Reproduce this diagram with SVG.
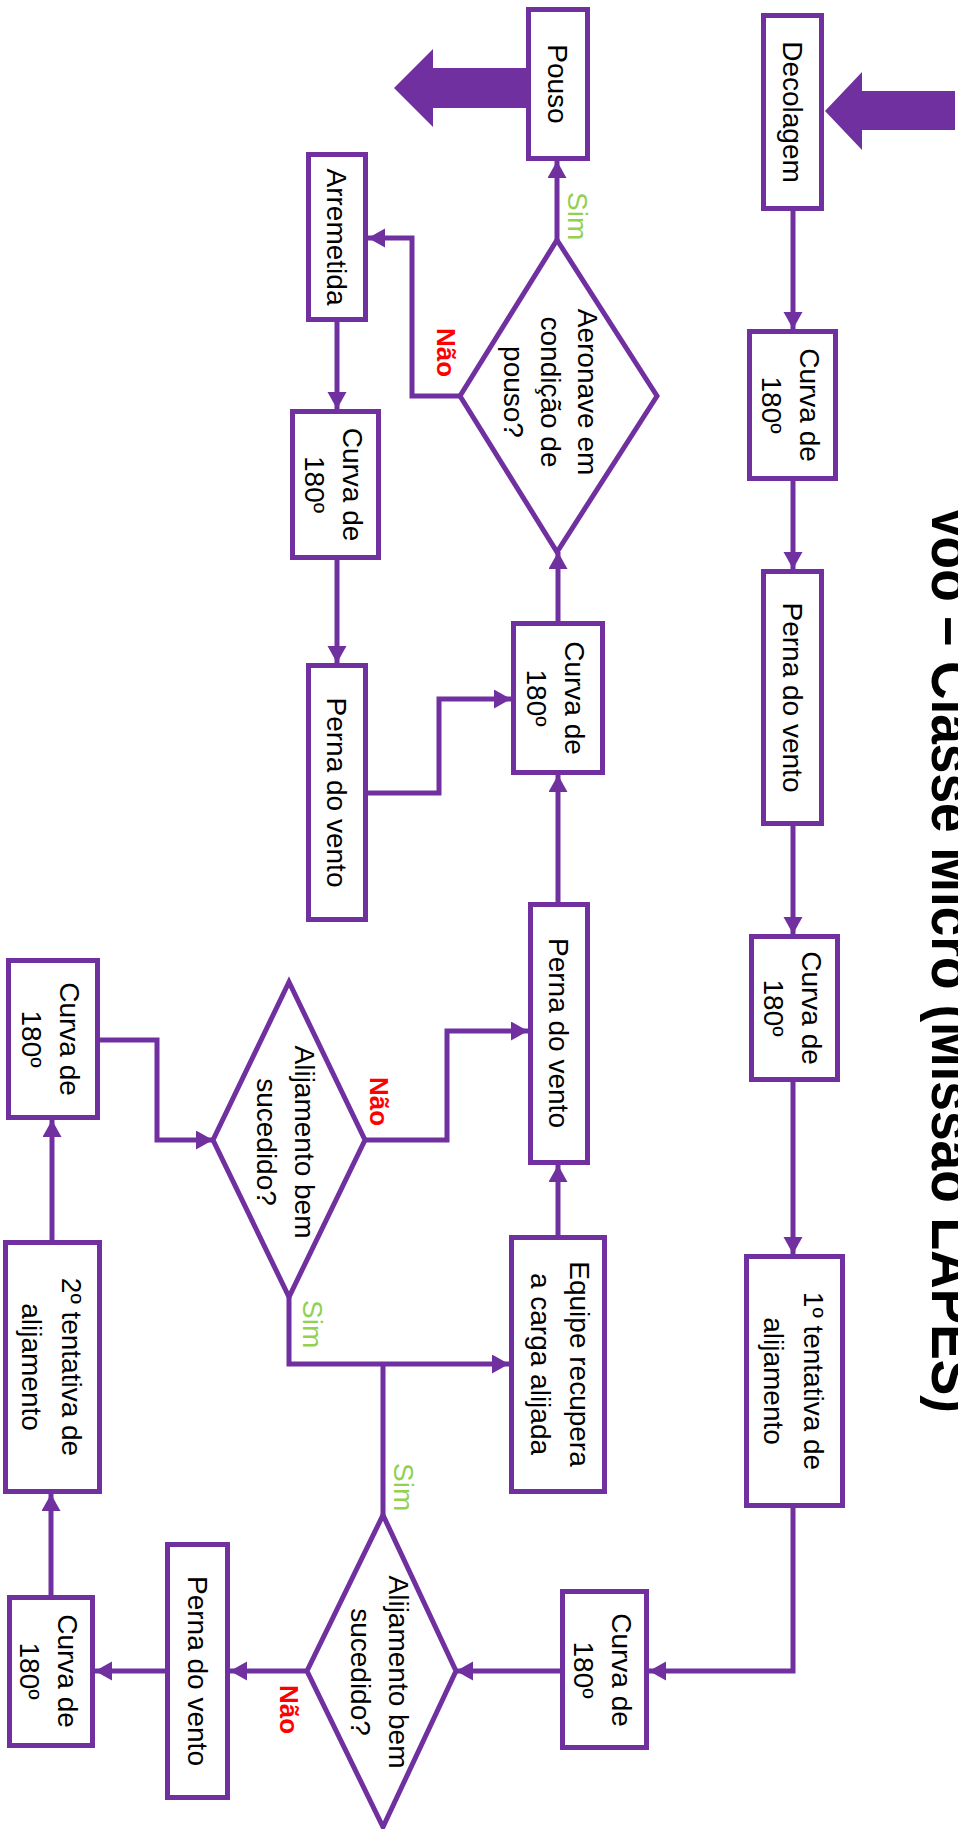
<svg xmlns="http://www.w3.org/2000/svg" width="958" height="1829" viewBox="0 0 958 1829">
<style>
.box{fill:#fff;stroke:#7030A0;stroke-width:5}
.dia{fill:#fff;stroke:#7030A0;stroke-width:5;stroke-linejoin:miter}
.ln{fill:none;stroke:#7030A0;stroke-width:5}
.t{font-family:"Liberation Sans",Arial,sans-serif;font-size:28px;fill:#000;text-anchor:middle}
.sim{font-family:"Liberation Sans",Arial,sans-serif;font-size:28px;fill:#92D050}
.nao{font-family:"Liberation Sans",Arial,sans-serif;font-size:26px;font-weight:bold;fill:#FF0000}
.title{font-family:"Liberation Sans",Arial,sans-serif;font-size:60px;font-weight:bold;fill:#000}
.big{fill:#7030A0}
</style>
<defs>
<marker id="ah" markerUnits="userSpaceOnUse" markerWidth="18" markerHeight="20" refX="17" refY="9.5" orient="auto">
<path d="M0,0 L17,9.5 L0,19 Z" fill="#7030A0"/>
</marker>
</defs>

<text class="title" transform="translate(932,505) rotate(90)" textLength="908" lengthAdjust="spacingAndGlyphs">Voo – Classe Micro (Missão LAPES)</text>

<g id="connectors">
<path class="ln" marker-end="url(#ah)" d="M793,211 V329"/>
<path class="ln" marker-end="url(#ah)" d="M793,481 V569"/>
<path class="ln" marker-end="url(#ah)" d="M793,826 V934"/>
<path class="ln" marker-end="url(#ah)" d="M793,1082 V1254"/>
<path class="ln" marker-end="url(#ah)" d="M793,1508 V1671 H649"/>
<path class="ln" marker-end="url(#ah)" d="M560,1671 H456"/>
<path class="ln" marker-end="url(#ah)" d="M307,1671 H230"/>
<path class="ln" marker-end="url(#ah)" d="M165,1671 H95"/>
<path class="ln" marker-end="url(#ah)" d="M51,1595 V1494"/>
<path class="ln" marker-end="url(#ah)" d="M52,1240 V1120"/>
<path class="ln" marker-end="url(#ah)" d="M100,1040 H157 V1140 H213"/>
<path class="ln" marker-end="url(#ah)" d="M365,1140 H447 V1031 H528"/>
<path class="ln" marker-end="url(#ah)" d="M289,1297 V1364 H509"/>
<path class="ln" d="M383,1515 V1364"/>
<path class="ln" marker-end="url(#ah)" d="M558,1235 V1165"/>
<path class="ln" marker-end="url(#ah)" d="M558,902 V775"/>
<path class="ln" marker-end="url(#ah)" d="M558,621 V552"/>
<path class="ln" marker-end="url(#ah)" d="M557,240 V161"/>
<path class="ln" marker-end="url(#ah)" d="M460,396 H412 V238 H368"/>
<path class="ln" marker-end="url(#ah)" d="M337,322 V409"/>
<path class="ln" marker-end="url(#ah)" d="M337,560 V663"/>
<path class="ln" marker-end="url(#ah)" d="M368,793 H439 V699 H511"/>
<polygon class="big" points="955,91 862,91 862,72 825,111 862,150 862,130 955,130"/>
<polygon class="big" points="527,68 433,68 433,49 394,88 433,127 433,108 527,108"/>
<text class="sim" transform="translate(568,192) rotate(90)">Sim</text>
<text class="nao" transform="translate(437,328) rotate(90)">Não</text>
<text class="nao" transform="translate(370,1077) rotate(90)">Não</text>
<text class="sim" transform="translate(303,1300) rotate(90)">Sim</text>
<text class="sim" transform="translate(394,1463) rotate(90)">Sim</text>
<text class="nao" transform="translate(280,1685) rotate(90)">Não</text>
</g>

<g id="decolagem"><rect class="box" x="763.5" y="15.5" width="58" height="193"/>
<text class="t" transform="translate(792.5,112) rotate(90)" y="10">Decolagem</text></g>

<g id="curva1"><rect class="box" x="749.5" y="331.5" width="86" height="147"/>
<text class="t" transform="translate(792.5,405) rotate(90)"><tspan x="0" y="-7">Curva de</tspan><tspan x="0" y="31">180º</tspan></text></g>

<g id="perna1"><rect class="box" x="763.5" y="571.5" width="58" height="252"/>
<text class="t" transform="translate(792.5,697.5) rotate(90)" y="10">Perna do vento</text></g>

<g id="curva2"><rect class="box" x="751.5" y="936.5" width="86" height="143"/>
<text class="t" transform="translate(794.5,1008) rotate(90)"><tspan x="0" y="-7">Curva de</tspan><tspan x="0" y="31">180º</tspan></text></g>

<g id="tentativa1"><rect class="box" x="746.5" y="1256.5" width="96" height="249"/>
<text class="t" transform="translate(794.5,1381) rotate(90)"><tspan x="0" y="-9">1º tentativa de</tspan><tspan x="0" y="31">alijamento</tspan></text></g>

<g id="pouso"><rect class="box" x="528.5" y="9.5" width="59" height="149"/>
<text class="t" transform="translate(558,84) rotate(90)" y="10">Pouso</text></g>

<g id="decisao-pouso"><polygon class="dia" points="557,240 657,396 557,552 460,396"/>
<text class="t" transform="translate(557,392) rotate(90)"><tspan x="0" y="-21">Aeronave em</tspan><tspan x="0" y="16">condição de</tspan><tspan x="0" y="53">pouso?</tspan></text></g>

<g id="curva3"><rect class="box" x="513.5" y="623.5" width="89" height="149"/>
<text class="t" transform="translate(558,698) rotate(90)"><tspan x="0" y="-7">Curva de</tspan><tspan x="0" y="31">180º</tspan></text></g>

<g id="perna2"><rect class="box" x="530.5" y="904.5" width="57" height="258"/>
<text class="t" transform="translate(559,1033) rotate(90)" y="10">Perna do vento</text></g>

<g id="equipe"><rect class="box" x="511.5" y="1237.5" width="93" height="254"/>
<text class="t" transform="translate(558,1364) rotate(90)"><tspan x="0" y="-12">Equipe recupera</tspan><tspan x="0" y="27">a carga alijada</tspan></text></g>

<g id="arremetida"><rect class="box" x="308.5" y="154.5" width="57" height="165"/>
<text class="t" transform="translate(337,237) rotate(90)" y="10">Arremetida</text></g>

<g id="curva4"><rect class="box" x="292.5" y="411.5" width="86" height="146"/>
<text class="t" transform="translate(335.5,484.5) rotate(90)"><tspan x="0" y="-7">Curva de</tspan><tspan x="0" y="31">180º</tspan></text></g>

<g id="perna3"><rect class="box" x="308.5" y="665.5" width="57" height="254"/>
<text class="t" transform="translate(337,792.5) rotate(90)" y="10">Perna do vento</text></g>

<g id="decisao1"><polygon class="dia" points="289,982 365,1140 289,1297 213,1140"/>
<text class="t" transform="translate(289,1142) rotate(90)"><tspan x="0" y="-6">Alijamento bem</tspan><tspan x="0" y="32">sucedido?</tspan></text></g>

<g id="curva5"><rect class="box" x="8.5" y="960.5" width="89" height="157"/>
<text class="t" transform="translate(53,1039) rotate(90)"><tspan x="0" y="-7">Curva de</tspan><tspan x="0" y="31">180º</tspan></text></g>

<g id="tentativa2"><rect class="box" x="5.5" y="1242.5" width="94" height="249"/>
<text class="t" transform="translate(52.5,1367) rotate(90)"><tspan x="0" y="-9">2º tentativa de</tspan><tspan x="0" y="31">alijamento</tspan></text></g>

<g id="curva6"><rect class="box" x="9.5" y="1597.5" width="83" height="148"/>
<text class="t" transform="translate(51,1671) rotate(90)"><tspan x="0" y="-7">Curva de</tspan><tspan x="0" y="31">180º</tspan></text></g>

<g id="curva7"><rect class="box" x="562.5" y="1591.5" width="84" height="156"/>
<text class="t" transform="translate(604.5,1670) rotate(90)"><tspan x="0" y="-7">Curva de</tspan><tspan x="0" y="31">180º</tspan></text></g>

<g id="decisao2"><polygon class="dia" points="383,1515 456,1671 383,1827 307,1671"/>
<text class="t" transform="translate(383,1672) rotate(90)"><tspan x="0" y="-6">Alijamento bem</tspan><tspan x="0" y="32">sucedido?</tspan></text></g>

<g id="perna4"><rect class="box" x="167.5" y="1544.5" width="60" height="253"/>
<text class="t" transform="translate(197.5,1671) rotate(90)" y="10">Perna do vento</text></g>
</svg>
